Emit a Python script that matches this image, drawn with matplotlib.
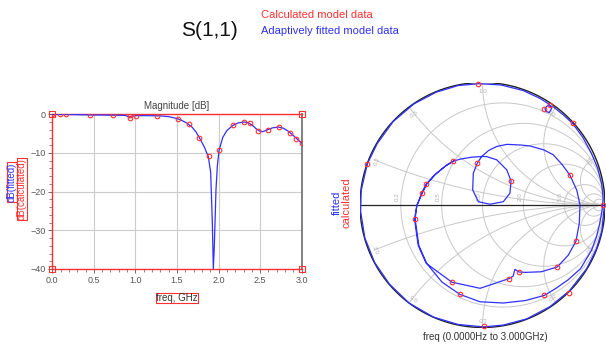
import matplotlib.pyplot as plt
import numpy as np

plt.rcParams["font.family"] = ["Liberation Sans", "DejaVu Sans"]

RED = "#ff3030"
BLUE = "#3030ff"
W, H = 606, 347

# S(1,1) magnitude, adaptively fitted curve (GHz, dB)
f_fit = [0.0, 0.1, 0.2, 0.3, 0.4, 0.5, 0.6, 0.7, 0.8, 0.88, 0.91, 0.93, 0.95, 1.0, 1.1,
         1.2, 1.3, 1.4, 1.5, 1.56, 1.62, 1.68, 1.73, 1.78, 1.83, 1.877, 1.905, 1.925,
         1.937, 1.949, 1.969, 1.985, 2.006, 2.05, 2.1, 2.17, 2.24, 2.31, 2.36, 2.41,
         2.45, 2.49, 2.53, 2.59, 2.65, 2.72, 2.78, 2.84, 2.9, 2.95, 3.0]
db_fit = [0.0, -0.02, -0.05, -0.1, -0.15, -0.18, -0.2, -0.22, -0.25, -0.3, -0.6, -0.9,
          -0.5, -0.35, -0.35, -0.37, -0.42, -0.6, -1.1, -1.6, -2.3, -3.3, -4.6, -6.5,
          -8.5, -11.0, -15.0, -28.0, -40.0, -34.0, -19.5, -13.5, -9.3, -6.0, -4.2, -2.9,
          -2.2, -2.0, -2.2, -2.9, -3.7, -4.3, -4.5, -4.0, -3.5, -3.3, -3.6, -4.4, -5.5,
          -6.5, -7.4]

# calculated model samples
f_calc = [0.0, 0.09, 0.17, 0.45, 0.73, 0.93, 0.93, 1.01, 1.26, 1.51, 1.64, 1.76, 1.88,
          2.01, 2.17, 2.31, 2.38, 2.48, 2.59, 2.73, 2.86, 2.93, 3.0]
db_calc = [0.0, 0.0, 0.0, -0.2, -0.2, -0.3, -1.0, -0.35, -0.35, -1.2, -2.5, -6.0, -10.9,
           -9.2, -2.8, -2.0, -2.2, -4.2, -4.0, -3.4, -4.9, -6.3, -7.3]

# fitted S11 trace on the Smith chart (reflection coefficient re, im)
g_fit_re = [0.995, 0.975, 0.93, 0.85, 0.71, 0.55, 0.36, 0.17, 0.01, -0.2, -0.4, -0.6,
            -0.76, -0.88, -0.96, -0.995, -0.99, -0.94, -0.86, -0.73, -0.56, -0.38, -0.2,
            -0.03, 0.15, 0.33, 0.47, 0.54, 0.565, 0.545, 0.515, 0.51, 0.535, 0.58, 0.66,
            0.736, 0.82, 0.89, 0.94, 0.973, 0.985, 0.975, 0.955, 0.93, 0.89, 0.8, 0.7,
            0.6, 0.505, 0.35, 0.17, -0.02, -0.184, -0.33, -0.455, -0.52, -0.55, -0.537,
            -0.496, -0.46, -0.388, -0.3, -0.238, -0.184, -0.09, -0.007, 0.034, 0.116,
            0.198, 0.233, 0.224, 0.17, 0.061, -0.034, -0.08, -0.075, -0.042, -0.007,
            0.05, 0.116, 0.2, 0.306, 0.388, 0.5, 0.578, 0.65, 0.714, 0.77, 0.796, 0.79,
            0.763, 0.7, 0.61, 0.48, 0.35, 0.298, 0.265, 0.25, 0.219, 0.1, -0.02, -0.25,
            -0.4, -0.46, -0.525, -0.555, -0.535, -0.49, -0.455, -0.385, -0.3, -0.238]
g_fit_im = [0.0, -0.21, -0.36, -0.52, -0.7, -0.83, -0.93, -0.98, -0.995, -0.975, -0.915,
            -0.8, -0.645, -0.47, -0.27, -0.05, 0.12, 0.336, 0.5, 0.68, 0.825, 0.92, 0.975,
            0.99, 0.98, 0.935, 0.87, 0.825, 0.79, 0.755, 0.765, 0.79, 0.815, 0.8, 0.735,
            0.665, 0.55, 0.42, 0.3, 0.17, 0.05, -0.05, -0.16, -0.26, -0.37, -0.52, -0.61,
            -0.68, -0.738, -0.78, -0.8, -0.79, -0.73, -0.63, -0.478, -0.33, -0.115, -0.01,
            0.098, 0.17, 0.248, 0.32, 0.358, 0.374, 0.39, 0.396, 0.395, 0.369, 0.287,
            0.197, 0.096, 0.027, 0.006, 0.027, 0.123, 0.26, 0.342, 0.396, 0.445, 0.478,
            0.495, 0.49, 0.482, 0.45, 0.41, 0.33, 0.243, 0.12, 0.0, -0.15, -0.295, -0.41,
            -0.506, -0.545, -0.55, -0.547, -0.525, -0.58, -0.6, -0.64, -0.68, -0.63,
            -0.52, -0.475, -0.33, -0.115, 0.0, 0.1, 0.17, 0.25, 0.32, 0.358]

# calculated samples on the Smith chart
g_calc_re = [0.986, 0.709, 0.012, -0.94, -0.034, 0.551, 0.505, 0.736, 0.505, -0.184,
             -0.55, -0.496, -0.46, -0.238, -0.042, 0.233, 0.714, 0.763, 0.61, 0.298,
             0.219, -0.25]
g_calc_im = [0.0, -0.716, -0.99, 0.336, 0.99, 0.817, 0.787, 0.67, -0.738, -0.73, -0.115,
             0.098, 0.17, 0.358, 0.342, 0.197, 0.243, -0.295, -0.506, -0.547, -0.6, -0.63]

smith_r = [0.2, 0.5, 1.0, 2.0, 5.0, 10.0, 20.0]
smith_x = [0.2, 0.5, 1.0, 2.0, 5.0]

fig = plt.figure(figsize=(W / 100, H / 100), dpi=100)

# ---------- title / legend ----------
fig.text(209 / W, 1 - 30 / H, "S(1,1)", fontsize=15, ha="center", va="center", color="#111111")
fig.text(261 / W, 1 - 15 / H, "Calculated model data", fontsize=8, color=RED, va="center")
fig.text(261 / W, 1 - 31 / H, "Adaptively fitted model data", fontsize=8, color=BLUE, va="center")

# ---------- magnitude plot ----------
x0, x1, yt, yb = 52.3, 301.7, 114.3, 269.0
ax = fig.add_axes([x0 / W, 1 - yb / H, (x1 - x0) / W, (yb - yt) / H])
ax.plot(f_fit, db_fit, color=BLUE, lw=0.9, zorder=3)
ax.plot(f_calc, db_calc, "o", mfc="none", mec=RED, ms=3.3, mew=0.8, zorder=4)
ax.plot([0, 3, 0, 3], [0, 0, -40, -40], "s", mfc="none", mec=RED, ms=5, mew=0.8,
        clip_on=False, zorder=5)
ax.set_xlim(0, 3)
ax.set_ylim(-40, 0)
ax.set_xticks(np.arange(0, 3.01, 0.5))
ax.set_xticks(np.arange(0, 3.01, 0.1), minor=True)
ax.set_yticks([-40, -30, -20, -10, 0])
ax.set_yticks(np.arange(-40, 0.1, 2), minor=True)
ax.set_xticklabels([f"{v:.1f}" for v in np.arange(0, 3.01, 0.5)])
ax.tick_params(labelsize=6.5, colors="#555555", length=3, width=0.6, pad=2)
ax.tick_params(which="minor", length=2, width=0.5, colors="#555555")
ax.grid(True, color="#cccccc", lw=0.8)
for side in ["left", "top", "bottom"]:
    ax.spines[side].set_color(RED)
    ax.spines[side].set_linewidth(1.0)
ax.spines["right"].set_color("#777777")
ax.spines["right"].set_linewidth(1.3)
ax.set_title("Magnitude [dB]", fontsize=7, color="#444444", pad=4)

fig.text(177 / W, 1 - 298 / H, "freq, GHz", fontsize=7, ha="center", va="center", color="#333333",
         bbox=dict(boxstyle="square,pad=0.05", fc="none", ec=RED, lw=0.8))
fig.text(12 / W, 1 - 182 / H, "dB(fitted)", fontsize=7, rotation=90, ha="center", va="center",
         color=BLUE, bbox=dict(boxstyle="square,pad=0.05", fc="none", ec=RED, lw=0.8))
fig.text(22 / W, 1 - 189 / H, "dB(calculated)", fontsize=7, rotation=90, ha="center", va="center",
         color=RED, bbox=dict(boxstyle="square,pad=0.05", fc="none", ec=RED, lw=0.8))

# ---------- Smith chart ----------
cx, cy, rad = 482.5, 205.0, 122.5
sx = fig.add_axes([(cx - rad) / W, 1 - (cy + rad) / H, 2 * rad / W, 2 * rad / H])
sx.set_xlim(-1, 1)
sx.set_ylim(-1, 1)
sx.axis("off")

t = np.linspace(0, 2 * np.pi, 720)
grid_kw = dict(color="#c8c8c8", lw=0.7, zorder=1)
for r in smith_r:
    c, rr = r / (1 + r), 1 / (1 + r)
    sx.plot(c + rr * np.cos(t), rr * np.sin(t), **grid_kw)
for xv in smith_x:
    for s in (1, -1):
        px = 1 + (1 / xv) * np.cos(t)
        py = s / xv + (1 / xv) * np.sin(t)
        inside = px ** 2 + py ** 2 <= 1.0005
        px = np.where(inside, px, np.nan)
        py = np.where(inside, py, np.nan)
        sx.plot(px, py, **grid_kw)
lab_kw = dict(fontsize=4.5, color="#b0b0b0", ha="center", va="center")
for r in smith_r[:4] + [5.0]:
    sx.text((r - 1) / (r + 1) - 0.03, 0.07, f"{r:.1f}", rotation=90, **lab_kw)
for xv in smith_x:
    for s in (1, -1):
        ex, ey = (xv ** 2 - 1) / (xv ** 2 + 1), 2 * xv / (xv ** 2 + 1) * s
        ang = np.degrees(np.arctan2(ey, ex)) - 90
        sx.text(ex * 0.93, ey * 0.93, f"{xv:.1f}", rotation=ang, **lab_kw)
sx.plot(np.cos(t), np.sin(t), color="#222222", lw=1.0, zorder=2)
sx.plot([-1, 1], [0, 0], color="#222222", lw=0.9, zorder=2)

sx.plot(g_fit_re, g_fit_im, color=BLUE, lw=0.9, zorder=3, clip_on=False)
sx.plot(g_calc_re, g_calc_im, "o", mfc="none", mec=RED, ms=3.3, mew=0.8, zorder=4, clip_on=False)

fig.text(337 / W, 1 - 203 / H, "fitted", fontsize=8, rotation=90, ha="center", va="center", color=BLUE)
fig.text(346 / W, 1 - 203 / H, "calculated", fontsize=8, rotation=90, ha="center", va="center", color=RED)
fig.text(485 / W, 1 - 337 / H, "freq (0.0000Hz to 3.000GHz)", fontsize=7, ha="center", va="center",
         color="#333333")

fig.savefig("out.png", dpi=100)
